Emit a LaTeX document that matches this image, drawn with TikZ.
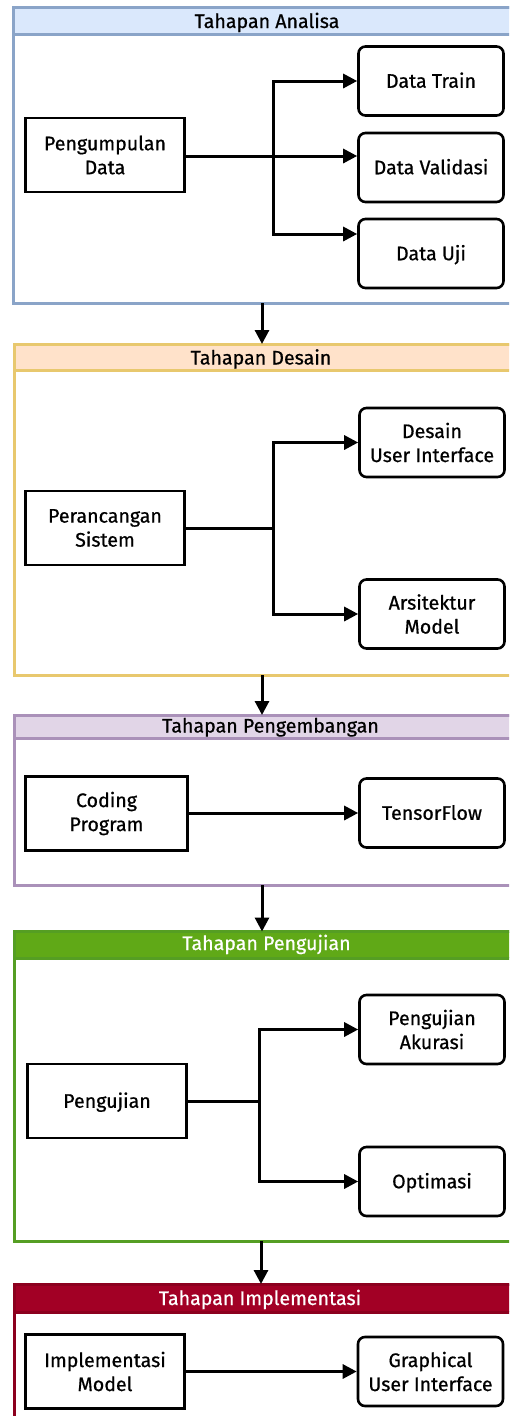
\documentclass[tikz,border=0pt]{standalone}
\usepackage{fontspec}
\setmainfont{Fira Sans}[FakeBold=0.7]
\usetikzlibrary{arrows.meta}

% stage colours: frame stroke and title fill
\definecolor{anaS}{RGB}{138,164,200}
\definecolor{anaF}{RGB}{218,232,252}
\definecolor{desS}{RGB}{232,200,110}
\definecolor{desF}{RGB}{255,226,202}
\definecolor{devS}{RGB}{170,145,185}
\definecolor{devF}{RGB}{225,213,231}
\definecolor{tesS}{RGB}{85,158,35}
\definecolor{tesF}{RGB}{96,169,23}
\definecolor{impS}{RGB}{140,0,30}
\definecolor{impF}{RGB}{162,0,37}

\newcommand{\boxfont}{\fontsize{19.6}{24}\selectfont}

\begin{document}
\begin{tikzpicture}[x=1pt,y=-1pt,
  frameline/.style={line width=3pt},
  stagetitle/.style={anchor=base,font=\boxfont,inner sep=0pt},
  leftbox/.style={draw,line width=2.6pt,rectangle,minimum width=159pt,
    minimum height=74pt,align=center,font=\boxfont,inner sep=2pt},
  rightbox/.style={draw,line width=2.6pt,rounded corners=7pt,minimum width=145pt,
    minimum height=69pt,align=center,font=\boxfont,inner sep=2pt},
  oneline/.style={text height=13.5pt,text depth=0pt},
  arr/.style={line width=3pt,-{Triangle[length=14pt,width=14pt]}},
  link/.style={line width=3pt}]

\useasboundingbox (0,0) rectangle (509,1416);
\clip (0,0) rectangle (509,1416);
\fill[white] (0,0) rectangle (509,1416);

% ---------- stage frames with title bars ----------
\draw[frameline,draw=anaS] (13.5,7) rectangle (540,303);
\draw[frameline,draw=anaS,fill=anaF] (13.5,7) rectangle (540,34);
\node[stagetitle] (t1) at (267,28) {Tahapan Analisa};

\draw[frameline,draw=desS] (14,344) rectangle (540,675);
\draw[frameline,draw=desS,fill=desF] (14,344) rectangle (540,370);
\node[stagetitle] (t2) at (261,364.5) {Tahapan Desain};

\draw[frameline,draw=devS] (14,715) rectangle (540,885);
\draw[frameline,draw=devS,fill=devF] (14,715) rectangle (540,738.5);
\node[stagetitle] (t3) at (270.5,732.5) {Tahapan Pengembangan};

\draw[frameline,draw=tesS] (14,931.5) rectangle (540,1241);
\draw[frameline,draw=tesS,fill=tesF] (14,931.5) rectangle (540,958);
\node[stagetitle,text=white] (t4) at (266.5,950) {Tahapan Pengujian};

\draw[frameline,draw=impS] (14,1284) rectangle (540,1460);
\draw[frameline,draw=impS,fill=impF] (14,1284) rectangle (540,1312);
\node[stagetitle,text=white] (t5) at (260,1305) {Tahapan Implementasi};

% frame hand-over points
\coordinate (f1out) at (262,303);
\coordinate (f2in)  at (262,344);
\coordinate (f2out) at (262,675);
\coordinate (f3in)  at (262,715);
\coordinate (f3out) at (262,885);
\coordinate (f4in)  at (262,931.5);
\coordinate (f4out) at (261,1241);
\coordinate (f5in)  at (261,1284);

% ---------- Tahapan Analisa ----------
\node[leftbox] (pd) at (105,155) {Pengumpulan\\Data};
\node[rightbox,oneline] (dt) at (431,81) {Data Train};
\node[rightbox,oneline] (dv) at (431,167.5) {Data Validasi};
\node[rightbox,oneline] (du) at (431,253.5) {Data Uji};
\coordinate (j1) at (273,156);
\draw[link] (pd.east |- j1) -- (j1);
\draw[arr] (j1) -- (dv.west |- j1);
\draw[arr,line join=miter] (j1) |- (dt.west);
\draw[arr,line join=miter] (j1) |- ([yshift=19.5pt]du.west);

% ---------- Tahapan Desain ----------
\node[leftbox] (ps) at (105,528) {Perancangan\\Sistem};
\node[rightbox] (dui) at (432,442.5) {Desain\\User Interface};
\node[rightbox] (am) at (432,614) {Arsitektur\\Model};
\coordinate (j2) at (273,528);
\draw[link] (ps.east) -- (j2);
\draw[arr,line join=miter] (j2) |- (dui.west);
\draw[arr,line join=miter] (j2) |- (am.west);

% ---------- Tahapan Pengembangan ----------
\node[leftbox,minimum width=162pt] (cp) at (106.5,813.5) {Coding\\Program};
\node[rightbox,oneline] (tf) at (432,813) {TensorFlow};
\draw[arr] (cp.east |- tf.west) -- (tf.west);

% ---------- Tahapan Pengujian ----------
\node[leftbox,oneline] (pj) at (107,1101) {Pengujian};
\node[rightbox] (pa) at (432,1029.5) {Pengujian\\Akurasi};
\node[rightbox,oneline] (op) at (432,1181.5) {Optimasi};
\coordinate (j4) at (259,1101);
\draw[link] (pj.east) -- (j4);
\draw[arr,line join=miter] (j4) |- (pa.west);
\draw[arr,line join=miter] (j4) |- (op.west);

% ---------- Tahapan Implementasi ----------
\node[leftbox] (im) at (105,1371.5) {Implementasi\\Model};
\node[rightbox] (gui) at (430.5,1371.5) {Graphical\\User Interface};
\draw[arr] (im.east) -- (gui.west);

% ---------- hand-over between stages ----------
\draw[arr] (f1out) -- (f2in);
\draw[arr] (f2out) -- (f3in);
\draw[arr] (f3out) -- (f4in);
\draw[arr] (f4out) -- (f5in);
\end{tikzpicture}
\end{document}
